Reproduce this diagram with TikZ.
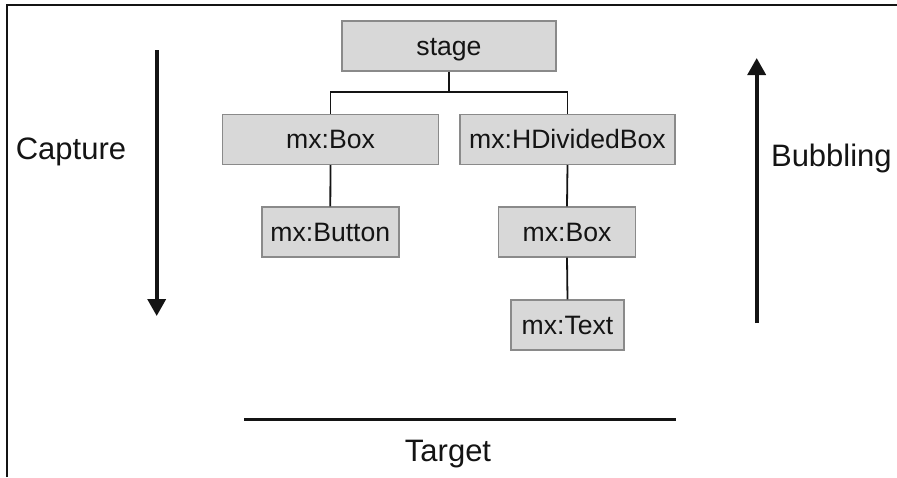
\documentclass[tikz,border=0pt]{standalone}
\usepackage{fontspec}
\setmainfont{Liberation Sans}
\usetikzlibrary{arrows.meta}
\definecolor{boxfill}{HTML}{D8D8D8}
\definecolor{boxline}{HTML}{8A8A8A}
\definecolor{ink}{HTML}{141414}
\begin{document}
\begin{tikzpicture}[x=1pt,y=-1pt,
  treebox/.style={draw=boxline,fill=boxfill,line width=1.4pt,inner sep=0pt,
    minimum height=50pt,text height=19pt,text depth=0pt,text=ink,
    font=\fontsize{26.6}{30}\selectfont},
  link/.style={draw=ink,line width=1.8pt},
  bigarrow/.style={draw=ink,line width=3.6pt,-{Triangle[length=17pt,width=18pt]}},
  sidelabel/.style={anchor=base,text=ink,font=\fontsize{31}{36}\selectfont,inner sep=0pt}]
\useasboundingbox (0,0) rectangle (897,477);
\draw[ink,line width=2pt] (7,477) -- (7,5) -- (897,5);
% tree
\node[treebox,minimum width=214pt] (stage) at (449,46) {stage};
\node[treebox,minimum width=216pt] (box1) at (330.5,139.3) {mx:Box};
\node[treebox,minimum width=215pt] (hdiv) at (567.5,139.3) {mx:HDividedBox};
\node[treebox,minimum width=137pt] (button) at (330.3,232) {mx:Button};
\node[treebox,minimum width=137pt] (box2) at (567,232) {mx:Box};
\node[treebox,minimum width=113pt] (txt) at (567.5,325) {mx:Text};
\coordinate (j) at (stage.south |- 0,92.3);
\draw[link] (stage.south) -- (j);
\draw[link] (box1.north) |- (j) -| (hdiv.north);
\draw[link] (box1.south) -- (button.north);
\draw[link] (hdiv.south) -- (box2.north);
\draw[link] (box2.south) -- (txt.north);
% arrows and labels
\coordinate (cs) at (156.7,50);
\coordinate (ce) at (156.7,316);
\draw[bigarrow] (cs) -- (ce);
\coordinate (bs) at (756.7,323);
\coordinate (be) at (756.7,58);
\draw[bigarrow] (bs) -- (be);
\coordinate (ts) at (244,419.3);
\coordinate (te) at (675.7,419.3);
\draw[ink,line width=3.2pt] (ts) -- (te);
\node[sidelabel] (capture) at (71,159.3) {Capture};
\node[sidelabel] (bubbling) at (831.4,166) {Bubbling};
\node[sidelabel] (target) at (448,461.7) {Target};
\end{tikzpicture}
\end{document}
